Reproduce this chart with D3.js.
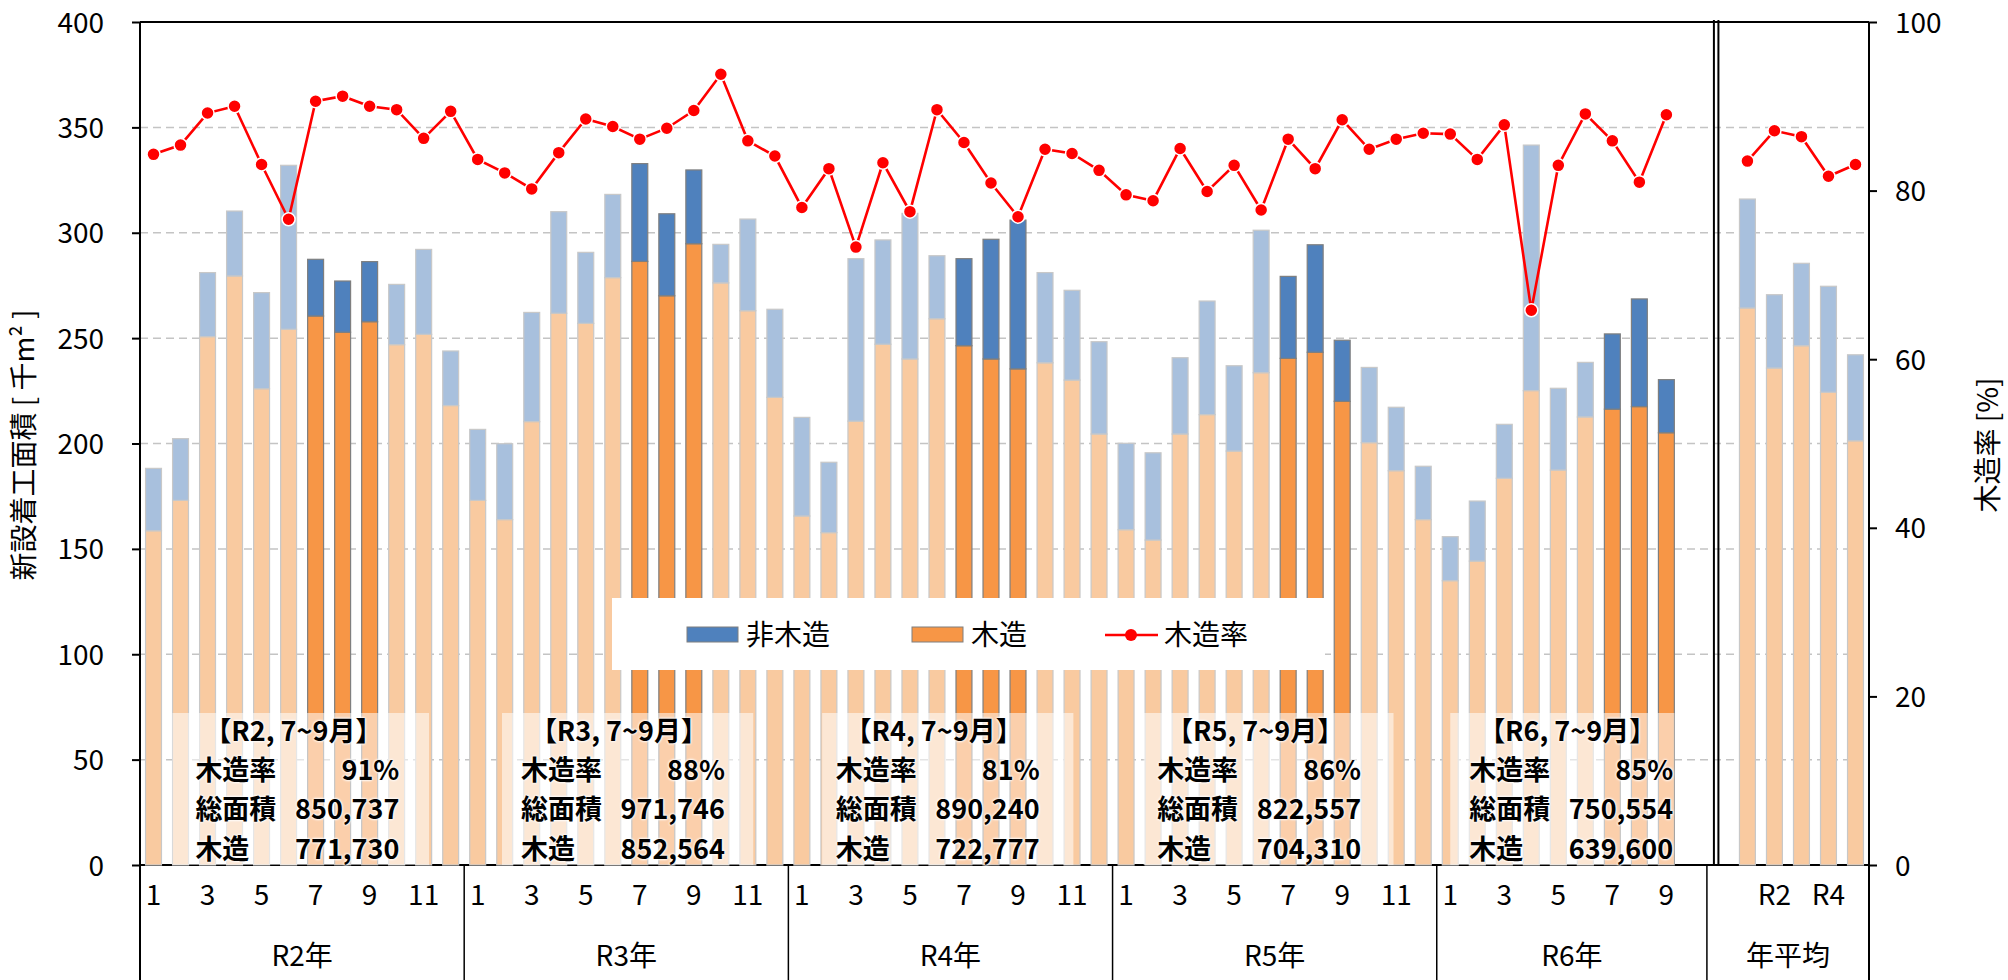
<!DOCTYPE html>
<html>
<head>
<meta charset="utf-8">
<script src="https://cdn.jsdelivr.net/npm/d3@7"></script>
<style>
  html, body { margin: 0; padding: 0; background: #fff; }
  #chart { position: relative; width: 2008px; height: 980px; }
  svg { display: block; font-family: "Noto Sans CJK JP", "Noto Sans", sans-serif; }
  .summary {
    position: absolute;
    width: 204px;
    font-family: "Noto Sans CJK JP", sans-serif;
    font-size: 27px;
    font-weight: 700;
    line-height: 39.2px;
    color: #000;
    white-space: nowrap;
    text-shadow: 0 0 3px #fff, 0 0 3px #fff, 0 0 2px #fff;
  }
  .summary .title { width: 196px; text-align: center; }
  .summary .row { display: flex; justify-content: space-between; }
</style>
</head>
<body>
<div id="chart"></div>
<script>
// monthly data (千m²)
const years = ["R2", "R3", "R4", "R5", "R6"];
const total = [
    [188.2, 202.3, 281.1, 310.3, 271.6, 332.0, 287.4, 277.1, 286.3, 275.5, 292.1, 243.9],
    [206.7, 199.9, 262.2, 310.0, 290.7, 318.2, 332.8, 309.0, 329.8, 294.5, 306.5, 263.7],
    [212.4, 191.1, 287.7, 296.6, 309.2, 289.1, 287.7, 296.9, 306.0, 281.1, 272.7, 248.3],
    [200.1, 195.6, 240.7, 267.6, 236.9, 301.2, 279.3, 294.3, 249.0, 236.1, 217.2, 189.2],
    [155.8, 172.7, 209.1, 341.6, 226.2, 238.5, 252.0, 268.6, 230.3]
];
const wood = [
    [158.6, 173.0, 250.7, 279.5, 226.0, 254.2, 260.5, 252.8, 257.8, 246.9, 251.8, 218.0],
    [173.0, 163.9, 210.4, 261.8, 257.0, 278.7, 286.4, 270.1, 294.8, 276.2, 263.0, 221.9],
    [165.6, 157.7, 210.6, 247.1, 240.1, 259.2, 246.4, 240.1, 235.4, 238.3, 230.1, 204.5],
    [159.1, 154.2, 204.5, 213.7, 196.4, 233.6, 240.4, 243.3, 220.0, 200.4, 187.1, 163.9],
    [134.9, 144.2, 183.5, 225.1, 187.4, 212.6, 216.3, 217.5, 205.1]
];
const rate = [
    [84.3, 85.4, 89.2, 90.0, 83.1, 76.6, 90.6, 91.2, 90.0, 89.6, 86.2, 89.4],
    [83.7, 82.1, 80.2, 84.5, 88.5, 87.6, 86.1, 87.4, 89.5, 93.8, 85.9, 84.1],
    [78.0, 82.6, 73.3, 83.3, 77.5, 89.6, 85.7, 80.9, 76.9, 84.9, 84.4, 82.4],
    [79.5, 78.8, 85.0, 79.9, 83.0, 77.7, 86.1, 82.6, 88.4, 84.9, 86.1, 86.8],
    [86.7, 83.7, 87.8, 65.8, 83.0, 89.1, 85.9, 81.0, 89.0]
];
const highlightMonths = [7, 8, 9];

// yearly averages
const avgYears = ["R1", "R2", "R3", "R4", "R5"];
const avgTotal = [316.0, 270.6, 285.5, 274.6, 242.1];
const avgWood = [264.3, 235.8, 246.4, 224.3, 201.3];
const avgRate = [83.5, 87.1, 86.4, 81.7, 83.1];

// 7~9月 summary boxes
const sumRate = [91, 88, 81, 86, 85];
const sumTotal = [850737, 971746, 890240, 822557, 750554];
const sumWood = [771730, 852564, 722777, 704310, 639600];

const leftTicks = [0, 50, 100, 150, 200, 250, 300, 350, 400];
const gridTicks = [50, 100, 150, 200, 250, 300, 350];
const rightTicks = [0, 20, 40, 60, 80, 100];

// ---- build the category list ----
const rows = [];
years.forEach((yr, yi) => {
    total[yi].forEach((t, mi) => {
        rows.push({
            key: yr + "-" + (mi + 1), label: String(mi + 1), year: yr,
            total: t, wood: wood[yi][mi], rate: rate[yi][mi],
            dark: highlightMonths.includes(mi + 1), group: "m"
        });
    });
});
rows.push({key: "gap1", label: ""});
rows.push({key: "gap2", label: ""});
avgYears.forEach((yr, i) => {
    rows.push({key: "avg-" + yr, label: yr, total: avgTotal[i], wood: avgWood[i],
               rate: avgRate[i], dark: false, group: "a"});
});

const width = 2008, height = 980;
const x0 = 140, x1 = 1869, yTop = 22, yBase = 865, yBottom = 980;

const x = d3.scaleBand()
    .domain(rows.map(d => d.key))
    .range([x0, x1])
    .paddingInner(0.41)
    .paddingOuter(0.205);
const step = x.step();
const slotStart = i => x0 + i * step;
const cx = k => x(k) + x.bandwidth() / 2;

const yL = d3.scaleLinear().domain([0, 400]).range([yBase, yTop]);
const yR = d3.scaleLinear().domain([0, 100]).range([yBase, yTop]);

const chart = d3.select("#chart");
const svg = chart.append("svg")
    .attr("width", width)
    .attr("height", height);

// gridlines
svg.append("g")
    .selectAll("line")
    .data(gridTicks)
    .join("line")
    .attr("x1", x0).attr("x2", x1)
    .attr("y1", d => yL(d)).attr("y2", d => yL(d))
    .attr("stroke", "#c4c4c4")
    .attr("stroke-width", 1.5)
    .attr("stroke-dasharray", "8,5");

// baseline
svg.append("line")
    .attr("x1", x0).attr("x2", x1)
    .attr("y1", yBase).attr("y2", yBase)
    .attr("stroke", "#000").attr("stroke-width", 2);

// bars
const barData = rows.filter(d => d.total !== undefined);
const bars = svg.append("g").selectAll("g").data(barData).join("g");
bars.append("rect")
    .attr("x", d => x(d.key))
    .attr("width", x.bandwidth())
    .attr("y", d => yL(d.wood))
    .attr("height", d => yL(0) - yL(d.wood))
    .attr("fill", d => d.dark ? "#f79646" : "#f9caa0")
    .attr("stroke", d => d.dark ? "#7f7f7f" : "#c8c8c8")
    .attr("stroke-width", 1.2);
bars.append("rect")
    .attr("x", d => x(d.key))
    .attr("width", x.bandwidth())
    .attr("y", d => yL(d.total))
    .attr("height", d => yL(d.wood) - yL(d.total))
    .attr("fill", d => d.dark ? "#4f81bd" : "#a8c0dd")
    .attr("stroke", d => d.dark ? "#7f7f7f" : "#c8c8c8")
    .attr("stroke-width", 1.2);

// wood ratio line
const line = d3.line().x(d => cx(d.key)).y(d => yR(d.rate));
["m", "a"].forEach(g => {
    svg.append("path")
        .datum(barData.filter(d => d.group === g))
        .attr("fill", "none")
        .attr("stroke", "#ff0000")
        .attr("stroke-width", 2.6)
        .attr("d", line);
});
svg.append("g").selectAll("circle")
    .data(barData)
    .join("circle")
    .attr("cx", d => cx(d.key))
    .attr("cy", d => yR(d.rate))
    .attr("r", 6.5)
    .attr("fill", "#ff0000")
    .attr("stroke", "#fff")
    .attr("stroke-width", 1.5);

// summary boxes (7~9月): translucent panel in the svg, text as an html block on top
const boxSpan = [[1.2, 10.7], [1.4, 10.7], [1.25, 10.55], [1.15, 10.4], [0.5, 8.8]];
const textLeft = [2.05, 2.1, 1.75, 1.65, 1.2];
const fmt = d3.format(",");
years.forEach((yr, i) => {
    const ys = slotStart(i * 12);
    svg.append("rect")
        .attr("x", ys + boxSpan[i][0] * step)
        .attr("width", (boxSpan[i][1] - boxSpan[i][0]) * step)
        .attr("y", 713)
        .attr("height", yBase - 713)
        .attr("fill", "#fff")
        .attr("opacity", 0.55);
});

// legend
const lg = svg.append("g").attr("font-size", 28).attr("fill", "#000");
lg.append("rect").attr("x", 612).attr("y", 598).attr("width", 713).attr("height", 72).attr("fill", "#fff");
lg.append("rect").attr("x", 687).attr("y", 627).attr("width", 51).attr("height", 15)
    .attr("fill", "#4f81bd").attr("stroke", "#7f7f7f").attr("stroke-width", 1);
lg.append("text").attr("x", 746).attr("y", 645).text("非木造");
lg.append("rect").attr("x", 912).attr("y", 627).attr("width", 51).attr("height", 15)
    .attr("fill", "#f79646").attr("stroke", "#7f7f7f").attr("stroke-width", 1);
lg.append("text").attr("x", 971).attr("y", 645).text("木造");
lg.append("line").attr("x1", 1105).attr("x2", 1158).attr("y1", 635).attr("y2", 635)
    .attr("stroke", "#ff0000").attr("stroke-width", 2.6);
lg.append("circle").attr("cx", 1131).attr("cy", 635).attr("r", 6).attr("fill", "#ff0000");
lg.append("text").attr("x", 1164).attr("y", 645).text("木造率");

// frame: top line, left/right axes, double separator
const frame = svg.append("g").attr("stroke", "#000");
frame.append("line").attr("x1", x0).attr("x2", x1).attr("y1", yTop).attr("y2", yTop).attr("stroke-width", 2);
frame.append("line").attr("x1", x0).attr("x2", x0).attr("y1", yTop).attr("y2", yBottom).attr("stroke-width", 2);
frame.append("line").attr("x1", x1).attr("x2", x1).attr("y1", yTop).attr("y2", yBottom).attr("stroke-width", 2);
const sep = slotStart(58);
[sep + 7, sep + 11.5].forEach(sx => {
    frame.append("line").attr("x1", sx).attr("x2", sx).attr("y1", 20).attr("y2", yBase).attr("stroke-width", 2);
});

// group dividers below the axis
const dividers = [12, 24, 36, 48, 58].map(slotStart);
frame.selectAll(".div").data(dividers).join("line")
    .attr("x1", d => d).attr("x2", d => d)
    .attr("y1", yBase).attr("y2", yBottom)
    .attr("stroke-width", 1.5);

// left axis
const axL = svg.append("g")
    .attr("transform", `translate(${x0},0)`)
    .call(d3.axisLeft(yL).tickValues(leftTicks).tickSize(8).tickPadding(28));
axL.select(".domain").remove();
axL.selectAll("line").attr("stroke", "#000").attr("stroke-width", 2);
axL.selectAll("text").attr("font-size", 28).attr("fill", "#000")
    .attr("font-family", "Noto Sans CJK JP").attr("dy", "0.36em");

// right axis
const axR = svg.append("g")
    .attr("transform", `translate(${x1},0)`)
    .call(d3.axisRight(yR).tickValues(rightTicks).tickSize(8).tickPadding(18));
axR.select(".domain").remove();
axR.selectAll("line").attr("stroke", "#000").attr("stroke-width", 2);
axR.selectAll("text").attr("font-size", 28).attr("fill", "#000")
    .attr("font-family", "Noto Sans CJK JP").attr("dy", "0.36em");

// bottom axis: month labels every other slot
const labelKeys = rows.filter((d, i) => i % 2 === 0 && d.label !== "").map(d => d.key);
const labelOf = new Map(rows.map(d => [d.key, d.label]));
const axB = svg.append("g")
    .attr("transform", `translate(0,${yBase})`)
    .call(d3.axisBottom(x).tickValues(labelKeys).tickSize(0).tickPadding(20).tickFormat(k => labelOf.get(k)));
axB.select(".domain").remove();
axB.selectAll("text").attr("font-size", 28).attr("fill", "#000")
    .attr("font-family", "Noto Sans CJK JP").attr("dy", "0.71em");

// year labels
const groups = years.map((yr, i) => ({
    label: yr + "年",
    from: slotStart(i * 12),
    to: slotStart(Math.min(i * 12 + 12, 58))
}));
groups.push({label: "年平均", from: slotStart(58), to: x1});
svg.append("g").selectAll("text").data(groups).join("text")
    .attr("x", d => (d.from + d.to) / 2)
    .attr("y", 966)
    .attr("text-anchor", "middle")
    .attr("font-size", 28)
    .attr("fill", "#000")
    .text(d => d.label);

// axis titles
svg.append("text")
    .attr("transform", "translate(34,445) rotate(-90)")
    .attr("text-anchor", "middle")
    .attr("font-size", 28)
    .attr("fill", "#000")
    .text("新設着工面積 [ 千m² ]");
svg.append("text")
    .attr("transform", "translate(1998,445) rotate(-90)")
    .attr("text-anchor", "middle")
    .attr("font-size", 28)
    .attr("fill", "#000")
    .text("木造率 [%]");

// summary text blocks
years.forEach((yr, i) => {
    const lx = slotStart(i * 12) + textLeft[i] * step;
    const box = chart.append("div")
        .attr("class", "summary")
        .style("left", lx + "px")
        .style("top", "710px");
    box.append("div").attr("class", "title").text("【" + yr + ", 7~9月】");
    [
        ["木造率", sumRate[i] + "%"],
        ["総面積", fmt(sumTotal[i])],
        ["木造", fmt(sumWood[i])]
    ].forEach(l => {
        const r = box.append("div").attr("class", "row");
        r.append("span").text(l[0]);
        r.append("span").text(l[1]);
    });
});
</script>
</body>
</html>
